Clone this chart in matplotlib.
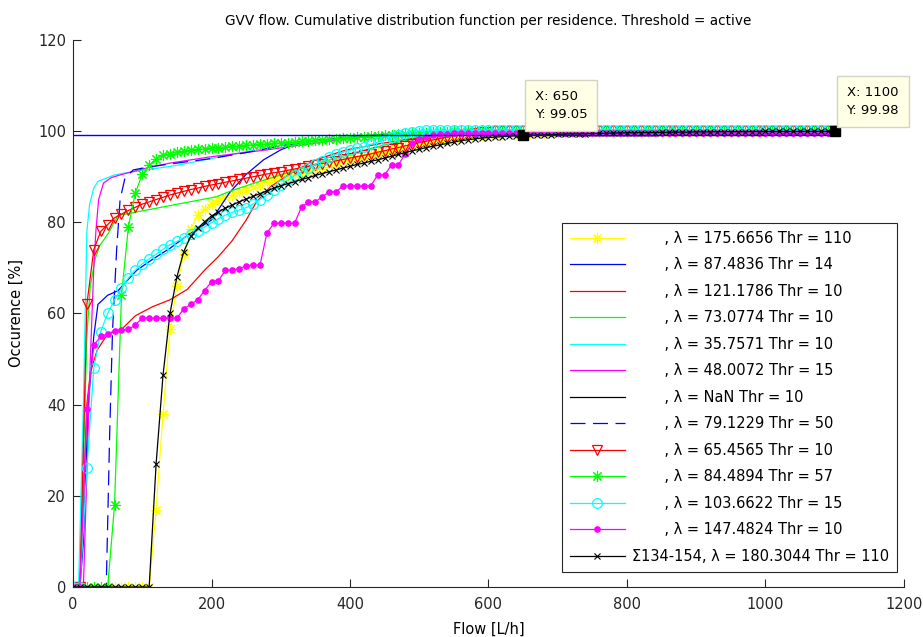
import matplotlib
matplotlib.use("Agg")
import matplotlib.pyplot as plt
import numpy as np

plt.rcParams['font.family'] = ['DejaVu Sans']
plt.rcParams['font.size'] = 10.5

# flow grid for the series drawn with markers (L/h)
flow = np.arange(0, 1101, 10)

yellow_star = [
    0, 0, 0, 0, 0, 0, 0, 0, 0, 0, 0, 0,
    17, 38, 56.5, 66, 73, 78.5, 81.6, 83, 84,
    84.8, 85.5, 86.1, 86.7, 87.2, 87.8, 88.3, 88.8, 89.3, 89.7,
    90.1, 90.6, 91, 91.4, 91.8, 92.2, 92.6, 93, 93.4, 93.8,
    94.2, 94.5, 94.9, 95.2, 95.5, 95.9, 96.2, 96.6, 96.9, 97.2,
    97.5, 97.8, 98, 98.3, 98.5, 98.7, 98.9, 99.1, 99.2, 99.3,
    99.4, 99.5, 99.6, 99.6, 99.7,
    99.7, 99.7, 99.7, 99.8, 99.8, 99.8, 99.8, 99.8, 99.9, 99.9, 99.9, 99.9, 99.9, 99.9, 99.9,
    99.9, 99.9, 99.9, 99.9, 99.9, 99.9, 99.9, 99.9, 99.9, 99.9, 99.9, 99.9, 99.9, 99.9, 99.9,
    99.9, 99.9, 99.9, 99.9, 99.9, 100, 100, 100, 100, 100, 100, 100, 100, 100, 100,
]

red_tri = [
    0, 0, 62, 74, 78, 79.5, 81, 81.8, 82.6, 83.3,
    84, 84.5, 85, 85.5, 86, 86.4, 86.8, 87.2, 87.5, 87.9,
    88.2, 88.5, 88.8, 89.1, 89.4, 89.7, 90, 90.3, 90.6, 90.9,
    91.1, 91.4, 91.7, 92, 92.3, 92.6, 92.9, 93.2, 93.5, 93.8,
    94.1, 94.4, 94.7, 95, 95.4, 95.7, 96.1, 96.4, 96.8, 97.1,
    97.5, 97.8, 98.1, 98.4, 98.7, 99, 99.2, 99.4, 99.6, 99.8,
    99.9, 100, 100, 100, 100, 100, 100, 100, 100, 100,
    100, 100, 100, 100, 100, 100, 100, 100, 100, 100,
    100, 100, 100, 100, 100, 100, 100, 100, 100, 100,
    100, 100, 100, 100, 100, 100, 100, 100, 100, 100,
    100, 100, 100, 100, 100, 100, 100, 100, 100, 100,
    100,
]

green_star = [
    0, 0, 0, 0, 0, 0, 18, 64, 79, 86.5,
    90.5, 92.5, 94, 94.7, 95.1, 95.4, 95.6, 95.8, 96, 96.1,
    96.3, 96.4, 96.5, 96.7, 96.8, 96.9, 97, 97.1, 97.2, 97.3,
    97.4, 97.5, 97.6, 97.8, 97.9, 98, 98.1, 98.2, 98.3, 98.5,
    98.6, 98.7, 98.8, 98.9, 99, 99.1, 99.2, 99.3, 99.4, 99.5,
    99.6, 99.7, 99.8, 99.9, 99.9, 100, 100, 100, 100, 100,
    100, 100, 100, 100, 100, 100, 100, 100, 100, 100,
    100, 100, 100, 100, 100, 100, 100, 100, 100, 100,
    100, 100, 100, 100, 100, 100, 100, 100, 100, 100,
    100, 100, 100, 100, 100, 100, 100, 100, 100, 100,
    100, 100, 100, 100, 100, 100, 100, 100, 100, 100,
    100,
]

cyan_circ = [
    0, 0, 26, 48, 56, 60, 63, 65.5, 67.8, 69.5,
    70.9, 72, 73, 74.1, 75.1, 75.8, 76.6, 77.4, 78.2, 79,
    79.9, 80.8, 81.6, 82.2, 82.7, 83.2, 84, 85, 86, 87.1,
    88.2, 89.2, 90.3, 91.1, 91.9, 92.7, 93.5, 94.3, 94.9, 95.4,
    95.8, 96.2, 96.6, 97.1, 97.6, 98.1, 98.7, 99.2, 99.6, 99.9,
    100.1, 100.2, 100.2, 100.2, 100.2, 100.2, 100.2, 100.2, 100.2, 100.2,
    100.2, 100.2, 100.2, 100.2, 100.2, 100.2, 100.2, 100.2, 100.2, 100.2,
    100.2, 100.2, 100.2, 100.2, 100.2, 100.2, 100.2, 100.2, 100.2, 100.2,
    100.2, 100.2, 100.2, 100.2, 100.2, 100.2, 100.2, 100.2, 100.2, 100.2,
    100.2, 100.2, 100.2, 100.2, 100.2, 100.2, 100.2, 100.2, 100.2, 100.2,
    100.2, 100.2, 100.2, 100.2, 100.2, 100.2, 100.2, 100.2, 100.2, 100.2,
    100.2,
]

magenta_dot = [
    0, 0, 39, 53, 55, 55.5, 56.2, 56.4, 56.5, 57.5,
    59, 59, 59, 59, 59, 59, 61, 62, 63, 65,
    67, 67.2, 69.5, 69.5, 69.8, 70.5, 70.6, 70.6, 77.6, 79.8,
    79.8, 79.8, 79.8, 83.4, 84.5, 84.5, 85.6, 86.7, 86.7, 88,
    88, 88, 88, 88, 90.4, 90.4, 92.6, 92.6, 95.1, 97.3,
    98.2, 98.8, 99.1, 99.3, 99.4, 99.5, 99.5, 99.5, 99.5, 99.5,
    99.5, 99.5, 99.5, 99.5, 99.5, 99.5, 99.5, 99.5, 99.5, 99.5,
    99.5, 99.5, 99.5, 99.5, 99.5, 99.5, 99.5, 99.5, 99.5, 99.5,
    99.6, 99.6, 99.6, 99.6, 99.6, 99.6, 99.6, 99.6, 99.6, 99.6,
    99.6, 99.6, 99.6, 99.6, 99.6, 99.6, 99.6, 99.6, 99.6, 99.6,
    99.6, 99.6, 99.6, 99.6, 99.6, 99.6, 99.6, 99.6, 99.6, 99.6,
    99.6,
]

black_x = [
    0, 0, 0, 0, 0, 0, 0, 0, 0, 0, 0, 0,
    27, 46.5, 60, 68, 73.6, 76.9, 78.7, 80.1,
    81.4, 82.3, 83.1, 83.8, 84.5, 85.1, 85.7, 86.3, 86.9, 87.5,
    88, 88.5, 88.9, 89.4, 89.8, 90.3, 90.7, 91.1, 91.5, 91.9,
    92.3, 92.7, 93, 93.4, 93.7, 94.1, 94.5, 94.9, 95.3, 95.7,
    96, 96.4, 96.7, 97, 97.3, 97.6, 97.9, 98.1, 98.3, 98.5,
    98.6, 98.7, 98.8, 98.9, 99, 99.05,
    99.1, 99.15, 99.2, 99.25, 99.3, 99.35, 99.4, 99.4, 99.45, 99.5, 99.5, 99.55, 99.6, 99.6, 99.65,
    99.65, 99.7, 99.7, 99.7, 99.75, 99.75, 99.8, 99.8, 99.8, 99.85, 99.85, 99.85, 99.9, 99.9, 99.9,
    99.9, 99.9, 99.92, 99.92, 99.94, 99.94, 99.95, 99.95, 99.96, 99.96, 99.97, 99.97, 99.97, 99.98, 99.98,
]

# plain lines: break points
blue_x = [0, 10, 15, 22, 30, 36, 50, 65, 92, 116, 140, 164, 200, 226, 250, 275, 300, 323, 350, 400, 450, 500, 550, 600, 1100]
blue_y = [0, 0, 10, 40, 55, 62, 64, 65, 69.5, 72, 74.3, 77, 80.5, 86.5, 90.5, 93.7, 95.9, 97.3, 98, 98.6, 99.1, 99.5, 99.8, 100, 100]

red_x = [0, 10, 20, 25, 35, 50, 70, 90, 115, 140, 165, 190, 210, 230, 250, 265, 285, 315, 350, 395, 445, 490, 550, 620, 1100]
red_y = [0, 0, 40, 47, 52, 55.5, 56.5, 59.5, 61.5, 63, 65.3, 69.5, 72.5, 76, 80.5, 84.5, 87.8, 90.8, 93.7, 95.9, 97.3, 98.4, 99.3, 100, 100]

green_x = [0, 10, 20, 25, 32, 39, 51, 65, 207, 230, 260, 300, 350, 400, 450, 500, 550, 600, 1100]
green_y = [0, 0, 55, 66, 72, 75, 77.6, 81.5, 85.6, 87, 88.5, 90.4, 92.8, 95, 97, 98.5, 99.5, 100, 100]

cyan_x = [0, 8, 15, 20, 24, 30, 36, 60, 85, 110, 150, 200, 250, 300, 350, 400, 450, 500, 550, 1100]
cyan_y = [0, 0, 40, 78, 84, 87.5, 89, 90.4, 91.1, 91.6, 92.5, 94, 95.5, 96.8, 97.8, 98.6, 99.2, 99.7, 100, 100]

magenta_x = [0, 15, 20, 25, 30, 33, 37, 44, 55, 68, 106, 140, 200, 280, 350, 400, 450, 500, 550, 1100]
magenta_y = [0, 0, 25, 50, 70, 78, 85, 88.6, 89.8, 90.4, 91.9, 93, 94.4, 95.9, 97.4, 98.4, 99.1, 99.6, 100, 100]

dash_x = [0, 48, 53, 57, 63, 68, 75, 87, 111, 150, 200, 250, 300, 350, 400, 450, 500, 550, 1100]
dash_y = [0, 0, 34, 56, 74, 85, 89.7, 91.5, 92.2, 93, 94, 95.3, 96.8, 97.9, 98.7, 99.3, 99.7, 100, 100]

level_x = [0, 1100]
level_y = [99.05, 99.05]

pad = '       '
labels = [
    pad + ', λ = 175.6656 Thr = 110',
    pad + ', λ = 87.4836 Thr = 14',
    pad + ', λ = 121.1786 Thr = 10',
    pad + ', λ = 73.0774 Thr = 10',
    pad + ', λ = 35.7571 Thr = 10',
    pad + ', λ = 48.0072 Thr = 15',
    pad + ', λ = NaN Thr = 10',
    pad + ', λ = 79.1229 Thr = 50',
    pad + ', λ = 65.4565 Thr = 10',
    pad + ', λ = 84.4894 Thr = 57',
    pad + ', λ = 103.6622 Thr = 15',
    pad + ', λ = 147.4824 Thr = 10',
    'Σ134-154, λ = 180.3044 Thr = 110',
]

tips = [(650, 99.05), (1100, 99.98)]

fig = plt.figure(figsize=(9.23, 6.37), dpi=100)
ax = fig.add_axes([0.0791, 0.0785, 0.9003, 0.8587])

ast = (8, 2, 0)
lw = 0.9
ax.plot(flow, yellow_star, color='yellow', lw=lw, marker=ast, ms=8, mew=0.8, label=labels[0])
ax.plot(blue_x, blue_y, color='blue', lw=lw, label=labels[1])
ax.plot(red_x, red_y, color='red', lw=lw, label=labels[2])
ax.plot(green_x, green_y, color='lime', lw=lw, label=labels[3])
ax.plot(cyan_x, cyan_y, color='cyan', lw=lw, label=labels[4])
ax.plot(magenta_x, magenta_y, color='magenta', lw=lw, label=labels[5])
ax.plot([], [], color='black', lw=lw, label=labels[6])
ax.plot(dash_x, dash_y, color='blue', lw=lw, dashes=(12, 6), label=labels[7])
ax.plot(flow, red_tri, color='red', lw=lw, marker='v', ms=7.5, mfc='none', mew=0.9, label=labels[8])
ax.plot(flow, green_star, color='lime', lw=lw, marker=ast, ms=8, mew=0.8, label=labels[9])
ax.plot(flow, cyan_circ, color='cyan', lw=lw, marker='o', ms=7, mfc='none', mew=0.9, label=labels[10])
ax.plot(flow, magenta_dot, color='magenta', lw=lw, marker='o', ms=3.8, label=labels[11])
ax.plot(flow, black_x, color='black', lw=lw, marker='x', ms=4.5, mew=0.8, label=labels[12])
ax.plot(level_x, level_y, color='blue', lw=1.0)

for tx, ty in tips:
    ax.plot(tx, ty, 's', color='black', ms=7, clip_on=False)
    ax.annotate('X: %g\nY: %.2f' % (tx, ty), xy=(tx, ty), xytext=(8.5, 10.5),
                textcoords='offset points', ha='left', va='bottom',
                fontsize=9.5, linespacing=1.5, annotation_clip=False,
                bbox=dict(boxstyle='square,pad=0.75', fc='#ffffe6', ec='#d4d4c4', lw=1))

ax.set_xlim(0, 1200)
ax.set_ylim(0, 120)
ax.set_xticks(np.arange(0, 1201, 200))
ax.set_yticks(np.arange(0, 121, 20))
ax.tick_params(direction='in', length=5.5, width=0.8, colors='#262626', labelsize=10.5)
ax.tick_params(axis='x', pad=7)
ax.tick_params(axis='y', pad=5)
for s in ['top', 'right']:
    ax.spines[s].set_visible(False)
for s in ['left', 'bottom']:
    ax.spines[s].set_color('#262626')
    ax.spines[s].set_linewidth(0.8)

ax.set_xlabel('Flow [L/h]', fontsize=10.5, labelpad=7)
ax.set_ylabel('Occurence [%]', fontsize=10.5, labelpad=10)
ax.set_title('GVV flow. Cumulative distribution function per residence. Threshold = active',
             fontsize=9.8, pad=11)

leg = ax.legend(loc='lower right', bbox_to_anchor=(0.9916, 0.0274), fontsize=10.5,
                handlelength=3.75, handletextpad=0.5, labelspacing=0.79,
                borderpad=0.55, fancybox=False, framealpha=1, borderaxespad=0)
leg.get_frame().set_edgecolor('#262626')
leg.get_frame().set_linewidth(0.8)

fig.savefig('out.png', dpi=100)
